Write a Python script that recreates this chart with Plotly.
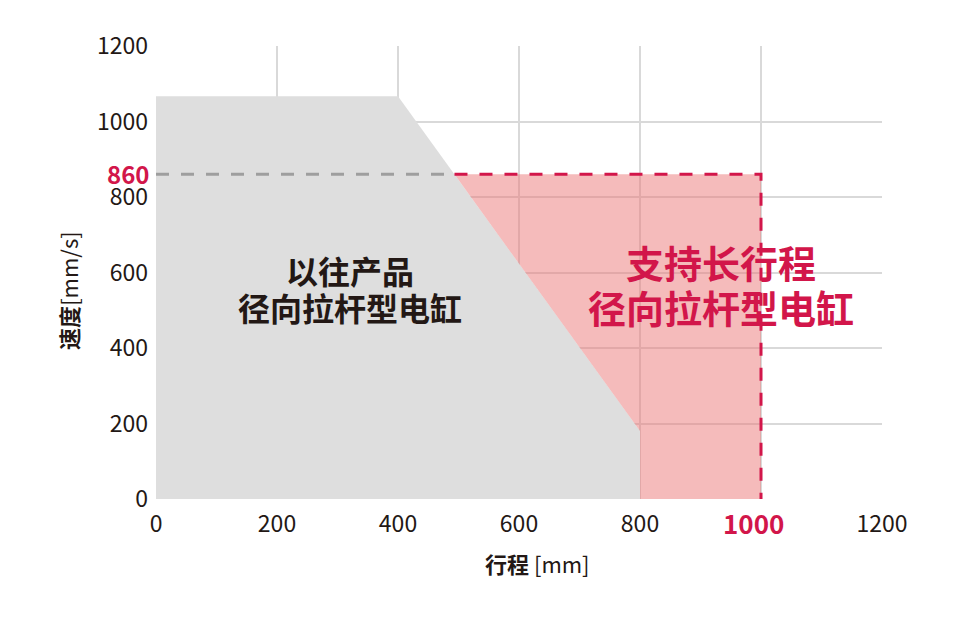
import plotly.graph_objects as go

FONT = "Noto Sans CJK SC"
RED = "#d2164a"
DARK = "#231815"

# axis ticks
x_ticks = [0, 200, 400, 600, 800, 1000, 1200]
y_ticks = [0, 200, 400, 600, 800, 1000, 1200]

# legacy product envelope (stroke, speed)
old_x = [0, 0, 400, 800, 800]
old_y = [0, 1067, 1067, 180, 0]

# long-stroke product limits
new_speed = 860
new_stroke = 1000

old_label = ["以往产品", "径向拉杆型电缸"]
new_label = ["支持长行程", "径向拉杆型电缸"]

# intersection of sloped edge with the new speed limit
x1, y1, x2, y2 = old_x[2], old_y[2], old_x[3], old_y[3]
x_cross = x1 + (y1 - new_speed) / (y1 - y2) * (x2 - x1)

fig = go.Figure()

fig.add_trace(go.Scatter(
    x=old_x + [old_x[0]], y=old_y + [old_y[0]], mode="lines", fill="toself",
    fillcolor="#dedede", line=dict(width=0), hoverinfo="skip", showlegend=False))

pink_x = [x_cross, new_stroke, new_stroke, x2, x2, x_cross]
pink_y = [new_speed, new_speed, 0, 0, y2, new_speed]
fig.add_trace(go.Scatter(
    x=pink_x, y=pink_y, mode="lines", fill="toself",
    fillcolor="rgba(236,120,120,0.5)", line=dict(width=0), hoverinfo="skip", showlegend=False))

fig.add_trace(go.Scatter(
    x=[0, x_cross], y=[new_speed, new_speed], mode="lines",
    line=dict(color="#9e9e9e", width=3, dash="13px,12px"), hoverinfo="skip", showlegend=False))
fig.add_trace(go.Scatter(
    x=[x_cross, new_stroke, new_stroke], y=[new_speed, new_speed, 0], mode="lines",
    line=dict(color=RED, width=3, dash="13px,12px"), hoverinfo="skip", showlegend=False))

# the highlighted stroke tick is drawn as an annotation below
x_text = ["" if v == new_stroke else str(v) for v in x_ticks]

fig.update_xaxes(range=[0, 1200], tickvals=x_ticks, ticktext=x_text, showgrid=True,
                 gridcolor="#d9d9d9", gridwidth=1.5, zeroline=False, showline=False,
                 ticks="", ticklabelstandoff=9, tickfont=dict(family=FONT, size=23, color=DARK))
fig.update_yaxes(range=[0, 1200], tickvals=y_ticks, showgrid=True,
                 gridcolor="#d9d9d9", gridwidth=1.5, zeroline=False, showline=False,
                 ticks="", ticklabelstandoff=7, tickfont=dict(family=FONT, size=23, color=DARK))

ann = []
ann.append(dict(x=0, y=new_speed, xref="x", yref="y", text=f"<b>{new_speed}</b>",
                xanchor="right", yanchor="middle", xshift=-5, yshift=1, showarrow=False,
                font=dict(family=FONT, size=24, color=RED)))
ann.append(dict(x=new_stroke, y=0, xref="x", yref="paper", text=f"<b>{new_stroke}</b>",
                xanchor="center", yanchor="middle", xshift=-8, yshift=-23, showarrow=False,
                font=dict(family=FONT, size=26, color=RED)))
ann.append(dict(x=321, y=607, xref="x", yref="y", text=f"<b>{old_label[0]}</b>",
                showarrow=False, font=dict(family=FONT, size=32, color=DARK)))
ann.append(dict(x=321, y=509, xref="x", yref="y", text=f"<b>{old_label[1]}</b>",
                showarrow=False, font=dict(family=FONT, size=32, color=DARK)))
ann.append(dict(x=934, y=630, xref="x", yref="y", text=f"<b>{new_label[0]}</b>",
                showarrow=False, font=dict(family=FONT, size=38, color=RED)))
ann.append(dict(x=934, y=511, xref="x", yref="y", text=f"<b>{new_label[1]}</b>",
                showarrow=False, font=dict(family=FONT, size=38, color=RED)))
ann.append(dict(x=(537 - 156) / 725, y=(499 - 563) / 453, xref="paper", yref="paper",
                text="<b>行程</b> [mm]", showarrow=False, xanchor="center", yanchor="middle",
                font=dict(family=FONT, size=22, color=DARK)))
ann.append(dict(x=(68 - 156) / 725, y=(499 - 290) / 453, xref="paper", yref="paper",
                text="<b>速度</b>[mm/s]", showarrow=False, textangle=-90,
                xanchor="center", yanchor="middle",
                font=dict(family=FONT, size=22, color=DARK)))

fig.update_layout(
    width=960, height=620,
    margin=dict(l=148, r=86, t=38, b=129, autoexpand=False),
    plot_bgcolor="white", paper_bgcolor="white",
    annotations=ann, showlegend=False,
)

fig.write_html("out.html")
